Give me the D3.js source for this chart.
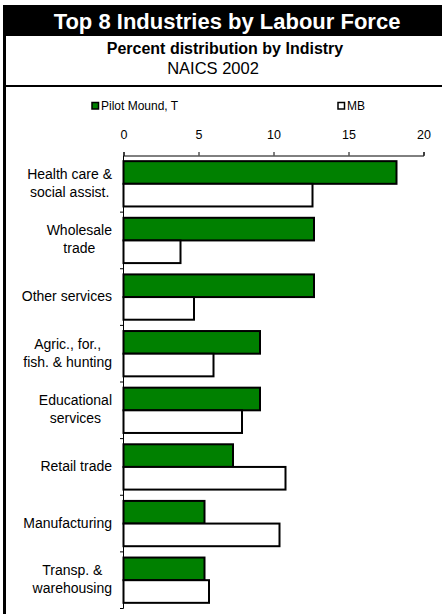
<!DOCTYPE html>
<html>
<head>
<meta charset="utf-8">
<script src="https://cdn.jsdelivr.net/npm/d3@7"></script>
<style>
  body { margin: 0; background: #fff; }
  text { font-family: Arial, "Liberation Sans", sans-serif; }
</style>
</head>
<body>
<div id="chart"></div>
<script>
var industries = [
    ["Health care &", "social assist."],
    ["Wholesale", "trade"],
    ["Other services"],
    ["Agric., for.,", "fish. & hunting"],
    ["Educational", "services"],
    ["Retail trade"],
    ["Manufacturing"],
    ["Transp. &", "warehousing"]
];
var seriesNames = ["Pilot Mound, T", "MB"];
var pilotMound = [18.2, 12.7, 12.7, 9.1, 9.1, 7.3, 5.4, 5.4];
var manitoba = [12.6, 3.8, 4.7, 6.0, 7.9, 10.8, 10.4, 5.7];
var xTicks = [0, 5, 10, 15, 20];

var W = 442, H = 614;
var plotLeft = 123.5, plotRight = 423.5, plotTop = 155.5, plotBottom = 608.5;

var svg = d3.select("#chart").append("svg")
    .attr("width", W)
    .attr("height", H);

// frame + title band
svg.append("rect").attr("x", 3).attr("y", 5).attr("width", W).attr("height", 31).attr("fill", "#000");
svg.append("rect").attr("x", 3).attr("y", 5).attr("width", 3).attr("height", H).attr("fill", "#000");
svg.append("rect").attr("x", 3).attr("y", 85).attr("width", W).attr("height", 2).attr("fill", "#000");

svg.append("text").attr("x", 227).attr("y", 29).attr("text-anchor", "middle")
    .attr("font-size", "22px").attr("font-weight", "bold").attr("fill", "#fff")
    .text("Top 8 Industries by Labour Force");
svg.append("text").attr("x", 225).attr("y", 54).attr("text-anchor", "middle")
    .attr("font-size", "16px").attr("font-weight", "bold")
    .text("Percent distribution by Indistry");
svg.append("text").attr("x", 213).attr("y", 74).attr("text-anchor", "middle")
    .attr("font-size", "16.5px")
    .text("NAICS 2002");

var x = d3.scaleLinear().domain([0, 20]).range([plotLeft, plotRight]);
var y = d3.scaleBand().domain(d3.range(industries.length)).range([plotTop, plotBottom]);
var inner = d3.scaleBand().domain([0, 1]).range([0, y.bandwidth()]).paddingOuter(0.25).paddingInner(0);

// legend
var legend = [[92, seriesNames[0], "#008000"], [338, seriesNames[1], "#fff"]];
legend.forEach(function(l) {
    svg.append("rect").attr("x", l[0]).attr("y", 102.5).attr("width", 6.5).attr("height", 6.5)
        .attr("fill", l[2]).attr("stroke", "#000").attr("stroke-width", 1.5);
    svg.append("text").attr("x", l[0] + 9).attr("y", 109.5).attr("font-size", "12px").text(l[1]);
});

// x axis on top
var xAxis = svg.append("g").attr("transform", "translate(0," + plotTop + ")")
    .call(d3.axisTop(x).tickValues(xTicks).tickSize(3.5).tickPadding(13));
xAxis.select(".domain").attr("stroke", "#000");
xAxis.selectAll("text").attr("font-size", "12.5px").attr("font-family", "Arial, 'Liberation Sans', sans-serif").attr("fill", "#000");

// bars
var groups = svg.selectAll("g.cat")
    .data(industries)
    .enter()
    .append("g")
    .attr("class", "cat")
    .attr("transform", function(d, i) { return "translate(0," + y(i) + ")"; });

groups.append("rect")
    .attr("x", x(0))
    .attr("y", inner(0))
    .attr("width", function(d, i) { return x(pilotMound[i]) - x(0); })
    .attr("height", inner.bandwidth())
    .attr("fill", "#008000").attr("stroke", "#000").attr("stroke-width", 2);

groups.append("rect")
    .attr("x", x(0))
    .attr("y", inner(1))
    .attr("width", function(d, i) { return x(manitoba[i]) - x(0); })
    .attr("height", inner.bandwidth())
    .attr("fill", "#fff").attr("stroke", "#000").attr("stroke-width", 2);

// y axis line + ticks at band edges
svg.append("line").attr("x1", plotLeft).attr("x2", plotLeft).attr("y1", plotTop).attr("y2", plotBottom).attr("stroke", "#000");
svg.selectAll("line.ytick")
    .data(d3.range(1, industries.length + 1))
    .enter()
    .append("line")
    .attr("class", "ytick")
    .attr("x1", plotLeft - 3.5).attr("x2", plotLeft)
    .attr("y1", function(i) { return i < industries.length ? y(i) : plotBottom; })
    .attr("y2", function(i) { return i < industries.length ? y(i) : plotBottom; })
    .attr("stroke", "#000");

// category labels, lines centred on each other, block right aligned
groups.each(function(lines) {
    var g = d3.select(this);
    var t = g.append("text").attr("font-size", "14px").attr("text-anchor", "middle");
    var mid = y.bandwidth() / 2 + 4 - (lines.length - 1) * 9;
    lines.forEach(function(s, k) {
        t.append("tspan").attr("y", mid + k * 18).text(s);
    });
    var wMax = d3.max(t.selectAll("tspan").nodes(), function(n) { return n.getComputedTextLength(); });
    t.selectAll("tspan").attr("x", 112 - wMax / 2);
});
</script>
</body>
</html>
